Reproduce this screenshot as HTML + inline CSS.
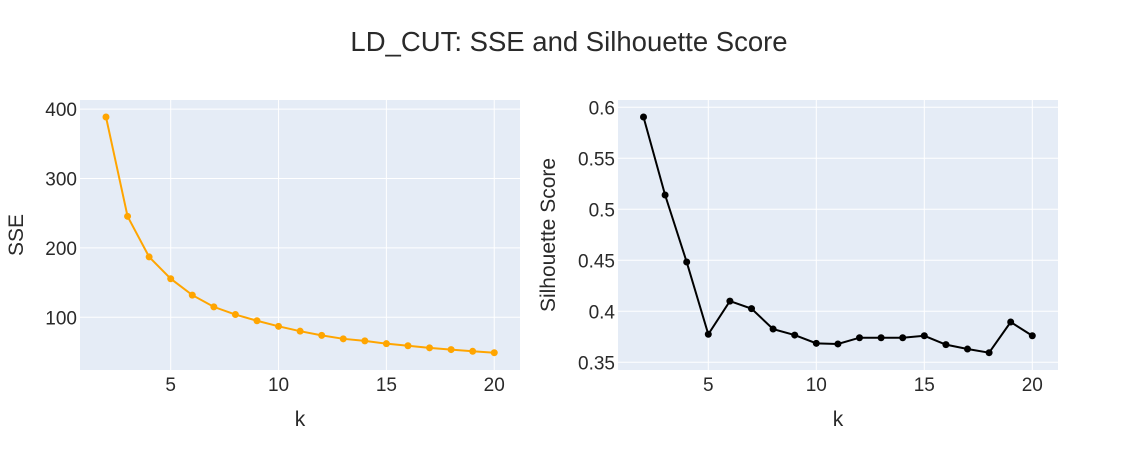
<!DOCTYPE html>
<html><head><meta charset="utf-8"><style>
body{margin:0;background:#fff;}
svg text{font-family:"Liberation Sans",Arial,sans-serif;fill:#2a2a2a;}
</style></head><body>
<svg id="chart" width="1138" height="450" xmlns="http://www.w3.org/2000/svg">
<rect width="1138" height="450" fill="#fff"/>
<text x="569" y="51" text-anchor="middle" font-size="27.5">LD_CUT: SSE and Silhouette Score</text>
<g id="p1"></g>
<g id="p2"></g>
<text x="300" y="426" text-anchor="middle" font-size="21">k</text>
<text x="838" y="426" text-anchor="middle" font-size="21">k</text>
<text transform="translate(23,235) rotate(-90)" text-anchor="middle" font-size="21">SSE</text>
<text transform="translate(555,235) rotate(-90)" text-anchor="middle" font-size="21">Silhouette Score</text>
</svg>
<script>
const kValues=[2,3,4,5,6,7,8,9,10,11,12,13,14,15,16,17,18,19,20];
const sseValues=[388.6,245.5,187,155.6,132,115,104,95,87,80,74,69,66,62,59,56,53.5,51,49];
const silValues=[0.5905,0.514,0.4483,0.3775,0.410,0.4026,0.3826,0.3767,0.3686,0.368,0.3741,0.3741,0.3741,0.376,0.3673,0.363,0.3594,0.3895,0.376];
const xTicks=[5,10,15,20];
const sseTicks=[100,200,300,400];
const silTicks=[0.35,0.4,0.45,0.5,0.55,0.6];
const silTickLabels=["0.35","0.4","0.45","0.5","0.55","0.6"];
const NS="http://www.w3.org/2000/svg";
function mk(parent,tag,attrs){const e=document.createElementNS(NS,tag);for(const k in attrs)e.setAttribute(k,attrs[k]);parent.appendChild(e);return e;}
function panel(g,left,right,top,bottom,xmap,ymap,yTicks,yLabels,vals,color,nm){
  const bg=mk(g,'rect',{x:left,y:top,width:right-left,height:bottom-top,fill:'#e5ecf6'});
  
  
  xTicks.forEach(t=>{const x=xmap(t);
    const l=mk(g,'line',{x1:x,x2:x,y1:top,y2:bottom,stroke:'#fff','stroke-width':1});
    
    
    const tx=mk(g,'text',{x:x,y:bottom+21,'text-anchor':'middle','font-size':19});tx.textContent=t;
    
    });
  yTicks.forEach((t,i)=>{const y=ymap(t);
    const l=mk(g,'line',{x1:left,x2:right,y1:y,y2:y,stroke:'#fff','stroke-width':1});
    
    
    const tx=mk(g,'text',{x:left-3,y:y+7,'text-anchor':'end','font-size':19});tx.textContent=yLabels[i];
    
    });
  const pts=kValues.map((k,i)=>xmap(k)+','+ymap(vals[i])).join(' ');
  const pl=mk(g,'polyline',{points:pts,fill:'none',stroke:color,'stroke-width':2});
  
  
  kValues.forEach((k,i)=>{const c=mk(g,'circle',{cx:xmap(k),cy:ymap(vals[i]),r:3.5,fill:color});
    
    });
}
const x1=k=>170.7+(k-5)*21.57;
const y1=v=>386.7-v*0.694;
panel(document.getElementById('p1'),80,520,100,370,x1,y1,sseTicks,sseTicks.map(String),sseValues,'#ffa500','sse');
const x2=k=>708.3+(k-5)*21.6;
const y2=v=>107.3+(0.6-v)*1020;
panel(document.getElementById('p2'),618,1058,100,370,x2,y2,silTicks,silTickLabels,silValues,'#000','silhouette');
</script>
</body></html>
